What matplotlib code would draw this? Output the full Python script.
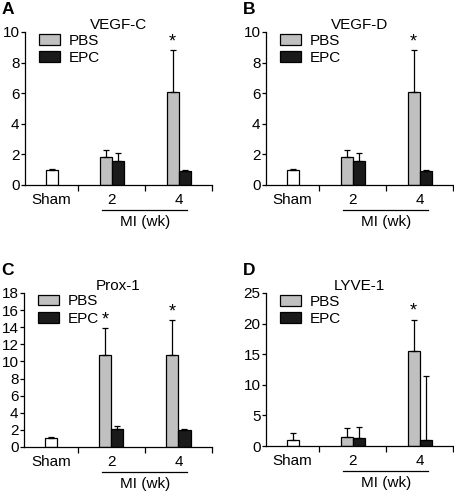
import matplotlib
matplotlib.use('Agg')
import matplotlib.pyplot as plt
import matplotlib.transforms as mtransforms
from matplotlib.patches import Patch

plt.rcParams['font.family'] = ['Liberation Sans', 'DejaVu Sans']

# ---- data ----
panel_letters = ['A', 'B', 'C', 'D']
panel_titles = ['VEGF-C', 'VEGF-D', 'Prox-1', 'LYVE-1']
group_labels = ['Sham', '2', '4']

sham_mean = [1.0, 1.0, 1.0, 1.0]
sham_err = [0.05, 0.05, 0.2, 1.2]

pbs_mean = [[1.8, 6.05], [1.8, 6.1], [10.8, 10.8], [1.4, 15.6]]
pbs_err = [[0.5, 2.75], [0.5, 2.7], [3.1, 4.0], [1.5, 5.0]]
epc_mean = [[1.6, 0.9], [1.6, 0.9], [2.1, 2.0], [1.3, 1.0]]
epc_err = [[0.5, 0.1], [0.5, 0.1], [0.3, 0.1], [1.8, 10.5]]

# which PBS bars carry a significance star (week 2, week 4)
stars = [[False, True], [False, True], [True, True], [False, True]]

y_max = [10, 10, 18, 25]
y_step = [2, 2, 2, 5]

# ---- layout ----
fig = plt.figure(figsize=(4.54, 4.92), dpi=100)
W, H = 454, 492
boxes = [(25, 32, 212, 185), (266, 32, 453, 185),
         (24, 293, 212, 447), (266, 293, 453, 446)]

PBS_COLOR = '#c0c0c0'
EPC_COLOR = '#1a1a1a'
FS = 11
bw = 0.18
edges = [0, 0.8, 1.8, 2.8]
centers = [0.4, 1.3, 2.3]

for i in range(4):
    x0, y0, x1, y1 = boxes[i]
    ax = fig.add_axes([x0 / W, 1 - y1 / H, (x1 - x0) / W, (y1 - y0) / H])

    err_kw = dict(ecolor='black', elinewidth=0.9, capsize=2.5, capthick=0.9)
    ax.bar(centers[0], sham_mean[i], bw, color='white', edgecolor='black', linewidth=0.9,
           yerr=[[0], [sham_err[i]]], error_kw=err_kw)
    pbs_x = [c - bw / 2 for c in centers[1:]]
    epc_x = [c + bw / 2 for c in centers[1:]]
    ax.bar(pbs_x, pbs_mean[i], bw, color=PBS_COLOR, edgecolor='black', linewidth=0.9,
           yerr=[[0, 0], pbs_err[i]], error_kw=err_kw)
    ax.bar(epc_x, epc_mean[i], bw, color=EPC_COLOR, edgecolor='black', linewidth=0.9,
           yerr=[[0, 0], epc_err[i]], error_kw=err_kw)

    for k in range(2):
        if stars[i][k]:
            ax.text(pbs_x[k], pbs_mean[i][k] + pbs_err[i][k], '*', ha='center', va='bottom',
                    fontsize=13, clip_on=False)

    ax.set_xlim(0, 2.8)
    ax.set_ylim(0, y_max[i])
    ax.set_yticks(range(0, y_max[i] + 1, y_step[i]))
    ax.tick_params(axis='y', labelsize=FS, length=3, width=0.9, pad=1)
    ax.set_xticks(edges[1:])
    ax.set_xticklabels([])
    ax.set_xticks(centers, minor=True)
    ax.set_xticklabels(group_labels, minor=True)
    ax.tick_params(axis='x', which='major', length=4, width=0.9)
    ax.tick_params(axis='x', which='minor', length=0, labelsize=FS, pad=6)
    for s in ['top', 'right']:
        ax.spines[s].set_visible(False)
    for s in ['left', 'bottom']:
        ax.spines[s].set_linewidth(0.9)

    # MI (wk) bracket line
    trans = mtransforms.blended_transform_factory(ax.transData, ax.transAxes)
    ax.plot([1.16, 2.43], [-0.165, -0.165], color='black', lw=0.9, transform=trans, clip_on=False)
    ax.text(1.8, -0.195, 'MI (wk)', transform=trans, ha='center', va='top', fontsize=FS)

    ax.set_title(panel_titles[i], fontsize=FS, pad=2)
    fig.text((x0 - 23) / W, 1 - (y0 - 30) / H, panel_letters[i], fontsize=12.5,
             fontweight='bold', ha='left', va='top')

    handles = [Patch(facecolor=PBS_COLOR, edgecolor='black', linewidth=0.9),
               Patch(facecolor=EPC_COLOR, edgecolor='black', linewidth=0.9)]
    ax.legend(handles, ['PBS', 'EPC'], loc='upper left', bbox_to_anchor=(0.035, 1.04),
              frameon=False, fontsize=FS, borderpad=0, handlelength=1.35, handleheight=0.7,
              labelspacing=0.2, handletextpad=0.6)

fig.savefig('out.png', dpi=100)
